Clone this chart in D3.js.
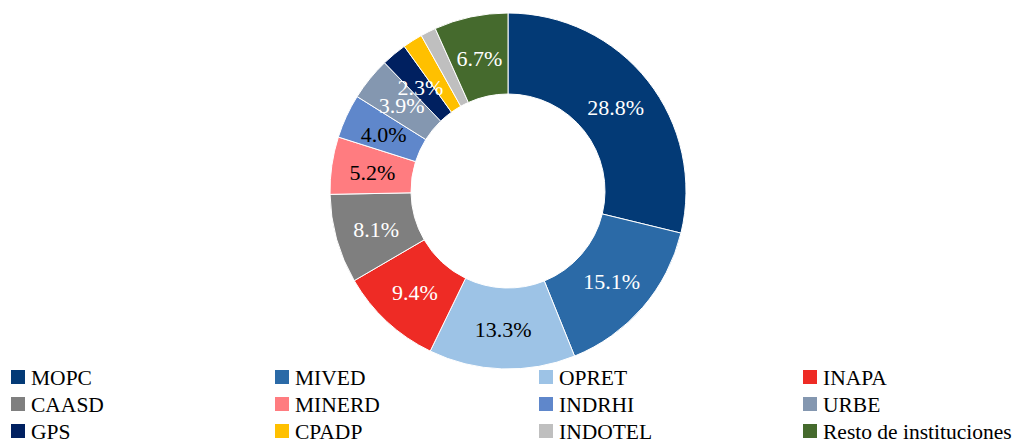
<!DOCTYPE html>
<html>
<head>
<meta charset="utf-8">
<script src="https://cdn.jsdelivr.net/npm/d3@7"></script>
<style>
  body { margin: 0; background: #fff; }
  svg { display: block; font-family: "Liberation Serif", "DejaVu Serif", serif; }
</style>
</head>
<body>
<svg id="chart" width="1026" height="442"></svg>
<script>
// institutions and their share (%)
const categories = ['MOPC', 'MIVED', 'OPRET', 'INAPA', 'CAASD', 'MINERD', 'INDRHI', 'URBE', 'GPS', 'CPADP', 'INDOTEL', 'Resto de instituciones']
const values = [28.8, 15.1, 13.3, 9.4, 8.1, 5.2, 4.0, 3.9, 2.3, 1.8, 1.4, 6.7]
const showLabel = [true, true, true, true, true, true, true, true, true, false, false, true]
const colors = ['#033a76', '#2b6aa7', '#9dc3e6', '#ee2b25', '#7f7f7f', '#ff7c80', '#5f87cb', '#8497b0', '#002060', '#ffc000', '#bfbfbf', '#456a2d']
const labelColors = ['#fff', '#fff', '#000', '#fff', '#fff', '#000', '#000', '#fff', '#fff', '#000', '#000', '#fff']

const data = categories.map((c, i) => ({name: c, value: values[i], i: i}))

var svg = d3.select('#chart')
var cx = 508, cy = 191
var outerR = 178, innerR = 97

var pie = d3.pie().value(d => d.value).sort(null)
var arc = d3.arc().innerRadius(innerR).outerRadius(outerR)
var labelArc = d3.arc().innerRadius(137).outerRadius(137)

var g = svg.append('g').attr('transform', `translate(${cx},${cy})`)
var arcs = pie(data)

g.selectAll('path').data(arcs).enter().append('path')
  .attr('d', arc)
  .attr('fill', d => colors[d.data.i])
  .attr('stroke', '#fff')
  .attr('stroke-width', 1)

g.selectAll('text').data(arcs.filter(d => showLabel[d.data.i])).enter().append('text')
  .attr('transform', d => `translate(${labelArc.centroid(d)})`)
  .attr('text-anchor', 'middle')
  .attr('dy', '0.4em')
  .style('font-size', '22px')
  .style('fill', d => labelColors[d.data.i])
  .text(d => d.data.value.toFixed(1) + '%')

// legend: 4 columns x 3 rows
var colX = [11, 275, 539, 803]
var rowY = [377, 404, 431]
var legend = svg.selectAll('.legend').data(data).enter().append('g')
  .attr('class', 'legend')
  .attr('transform', d => `translate(${colX[d.i % 4]},${rowY[Math.floor(d.i / 4)]})`)

legend.append('rect')
  .attr('x', 0).attr('y', -7)
  .attr('width', 14).attr('height', 14)
  .attr('fill', d => colors[d.i])

legend.append('text')
  .attr('x', 20)
  .attr('dy', '0.36em')
  .style('font-size', '21.5px')
  .style('fill', '#000')
  .text(d => d.name)
</script>
</body>
</html>
